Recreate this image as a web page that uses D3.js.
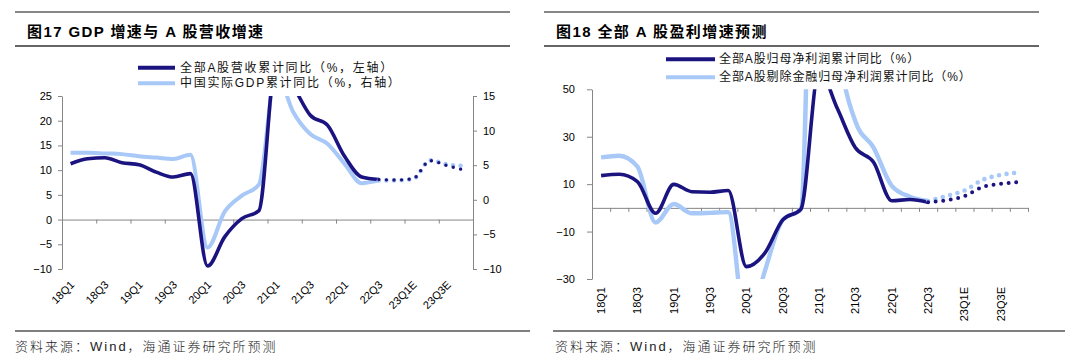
<!DOCTYPE html>
<html><head><meta charset="utf-8">
<script src="https://cdn.jsdelivr.net/npm/d3@7"></script>
<style>
body{margin:0;background:#fff;}
svg text{font-family:"Liberation Sans","Noto Sans CJK SC",sans-serif;}
</style></head><body>
<svg id="c" width="1080" height="364"></svg>
<script>
// ---------- data ----------
const categories = ["18Q1","18Q2","18Q3","18Q4","19Q1","19Q2","19Q3","19Q4",
  "20Q1","20Q2","20Q3","20Q4","21Q1","21Q2","21Q3","21Q4",
  "22Q1","22Q2","22Q3","22Q4E","23Q1E","23Q2E","23Q3E","23Q4E"];
const tickLabels = ["18Q1","18Q3","19Q1","19Q3","20Q1","20Q3","21Q1","21Q3","22Q1","22Q3","23Q1E","23Q3E"];
const actualCats = categories.slice(0, 19);
const forecastCats = categories.slice(18);

// Fig.17 (left axis: revenue; right axis: GDP)
const revenueActual = [11.3,12.3,12.5,11.5,11.1,9.6,8.6,9.3,-9.4,-3.5,0.2,1.8,32,27,21.1,19.1,12.8,8.6,8.1];
const revenueForecast = [8.1,8.0,8.3,11.9,10.9,10.0];
const gdpActual = [6.8,6.8,6.7,6.6,6.3,6.1,5.9,6.5,-6.9,-1.7,0.6,2.2,18.3,12.7,9.5,8.1,5.2,2.4,2.8];
const gdpForecast = [2.8,2.8,3.0,5.7,5.1,4.9];
const leftTicks = [-10,-5,0,5,10,15,20,25];
const rightTicks = [-10,-5,0,5,10,15];

// Fig.18
const profitAllActual = [13.6,14.2,11.1,-2.3,9.9,6.8,6.6,7.3,-24.8,-19.2,-5.1,-0.5,58,42,25.3,19.2,3.0,3.5,2.4];
const profitAllForecast = [2.4,3.2,5.0,8.8,10.1,10.9];
const profitNonFinActual = [21.3,22.0,17.4,-6.2,1.6,-2.3,-2.1,-1.8,-52,-27,-5.1,-0.5,250,75,36.4,25.4,9.3,4.7,2.9];
const profitNonFinForecast = [2.9,5.0,7.3,11.8,13.9,14.9];
const profitTicks = [-30,-10,10,30,50];

const title17 = "图17 GDP 增速与 A 股营收增速";
const title18 = "图18 全部 A 股盈利增速预测";
const legend17 = ["全部A股营收累计同比（%，左轴）","中国实际GDP累计同比（%，右轴）"];
const legend18 = ["全部A股归母净利润累计同比（%）","全部A股剔除金融归母净利润累计同比（%）"];
const sourceText = "资料来源：Wind，海通证券研究所预测";

// ---------- drawing ----------
const DARK = "#1b1480", LIGHT = "#a8c8f7", AXIS = "#868686";
const svg = d3.select("#c");
svg.append("rect").attr("width",1080).attr("height",364).attr("fill","#fff");

function styleAxis(g){
  g.selectAll("path.domain").attr("stroke",AXIS).attr("stroke-width",1);
  g.selectAll(".tick line").attr("stroke",AXIS).attr("stroke-width",1);
  g.selectAll(".tick text").attr("fill","#000").style("font-size","11px")
    .style("font-family","'Liberation Sans',Arial,sans-serif");
}
function header(x0, x1, tx, title, legends, lx0, lx1, ly, ltx, lsp){
  svg.append("line").attr("x1",x0).attr("x2",x1).attr("y1",12).attr("y2",12).attr("stroke","#111").attr("stroke-width",1.2);
  svg.append("line").attr("x1",x0).attr("x2",x1).attr("y1",46).attr("y2",46).attr("stroke","#666").attr("stroke-width",1.8);
  svg.append("text").attr("x",tx).attr("y",36.5).text(title)
    .style("font-size","15px").style("font-weight","bold").style("letter-spacing","1.4px").attr("fill","#000");
  [DARK, LIGHT].forEach((c,i)=>{
    svg.append("line").attr("x1",lx0).attr("x2",lx1).attr("y1",ly[i]).attr("y2",ly[i])
      .attr("stroke",c).attr("stroke-width",4);
    svg.append("text").attr("x",ltx).attr("y",ly[i]).attr("dominant-baseline","central")
      .text(legends[i]).style("font-size","12px").style("letter-spacing",lsp+"px").attr("fill","#111");
  });
}
function footer(x0,x1,tx){
  svg.append("line").attr("x1",x0).attr("x2",x1).attr("y1",331).attr("y2",331).attr("stroke","#555").attr("stroke-width",1.5);
  svg.append("text").attr("x",tx).attr("y",350.5).text(sourceText)
    .style("font-size","13px").style("letter-spacing","2px").style("font-weight","300").attr("fill","#222");
}
function drawSeries(g, x, y, cats, vals, color, width, dotted){
  const line = d3.line().x((d,i)=>x(cats[i])+x.bandwidth()/2).y(d=>y(d)).curve(d3.curveMonotoneX);
  const p = g.append("path").attr("d",line(vals)).attr("fill","none").attr("stroke",color)
    .attr("stroke-width",width).attr("stroke-linejoin","round");
  if(dotted) p.attr("stroke-dasharray","0 7.6").attr("stroke-linecap","round");
}

// ===== Fig 17 =====
header(15,510,27,title17,legend17,138,175,[67.7,83.3],180,1.7);
{
  const xL = d3.scaleBand().domain(categories).range([62,473]);
  const yL = d3.scaleLinear().domain([-10,25]).range([269,96]);
  const yR = d3.scaleLinear().domain([-10,15]).range([269,96]);
  const xi = d3.scaleLinear().domain([0,categories.length]).range([62,473]);
  svg.append("clipPath").attr("id","clipL").append("rect").attr("x",62).attr("y",96).attr("width",411).attr("height",173);

  svg.append("g").attr("transform","translate(62,0)")
    .call(d3.axisLeft(yL).tickValues(leftTicks).tickSize(4).tickSizeOuter(0).tickPadding(6)).call(styleAxis);
  svg.append("g").attr("transform","translate(473,0)")
    .call(d3.axisRight(yR).tickValues(rightTicks).tickSize(4).tickSizeOuter(0).tickPadding(6)).call(styleAxis);
  svg.append("g").attr("transform",`translate(0,${yL(0)})`)
    .call(d3.axisBottom(xi).tickValues(d3.range(0,categories.length+1,2)).tickSize(4).tickSizeOuter(0).tickFormat(""))
    .call(styleAxis);
  svg.append("g").selectAll("text").data(tickLabels).join("text")
    .attr("transform",d=>`translate(${xL(d)+xL.bandwidth()/2+4.5},285.5) rotate(-45)`)
    .attr("text-anchor","end").text(d=>d).style("font-size","11px").attr("fill","#000");

  const g = svg.append("g").attr("clip-path","url(#clipL)");
  drawSeries(g,xL,yR,actualCats,gdpActual,LIGHT,4,false);
  drawSeries(g,xL,yL,actualCats,revenueActual,DARK,3.6,false);
  drawSeries(g,xL,yR,forecastCats,gdpForecast,LIGHT,4.6,true);
  drawSeries(g,xL,yL,forecastCats,revenueForecast,DARK,3.4,true);
}
footer(15,530,15);

// ===== Fig 18 =====
header(544,1039,556,title18,legend18,666,715,[59.3,77.3],719,0.9);
{
  const xR = d3.scaleBand().domain(categories).range([592,1028]);
  const yP = d3.scaleLinear().domain([-30,50]).range([279,89.3]);
  const xi = d3.scaleLinear().domain([0,categories.length]).range([592,1028]);
  svg.append("clipPath").attr("id","clipR").append("rect").attr("x",592).attr("y",89.3).attr("width",436).attr("height",189.7);

  svg.append("g").attr("transform","translate(592,0)")
    .call(d3.axisLeft(yP).tickValues(profitTicks).tickSize(5).tickSizeOuter(0).tickPadding(12)).call(styleAxis);
  svg.append("g").attr("transform",`translate(0,${yP(0)})`)
    .call(d3.axisBottom(xi).tickValues(d3.range(0,categories.length+1,1)).tickSize(4).tickSizeOuter(0).tickFormat(""))
    .call(styleAxis);
  svg.append("g").selectAll("text").data(tickLabels).join("text")
    .attr("transform",d=>`translate(${xR(d)+xR.bandwidth()/2},287) rotate(-90)`)
    .attr("text-anchor","end").attr("dy","0.35em").text(d=>d).style("font-size","11px").attr("fill","#000");

  const g = svg.append("g").attr("clip-path","url(#clipR)");
  drawSeries(g,xR,yP,actualCats,profitNonFinActual,LIGHT,4.4,false);
  drawSeries(g,xR,yP,actualCats,profitAllActual,DARK,3.6,false);
  drawSeries(g,xR,yP,forecastCats,profitNonFinForecast,LIGHT,4.6,true);
  drawSeries(g,xR,yP,forecastCats,profitAllForecast,DARK,4,true);
}
footer(553,1065,555);
</script>
</body></html>
